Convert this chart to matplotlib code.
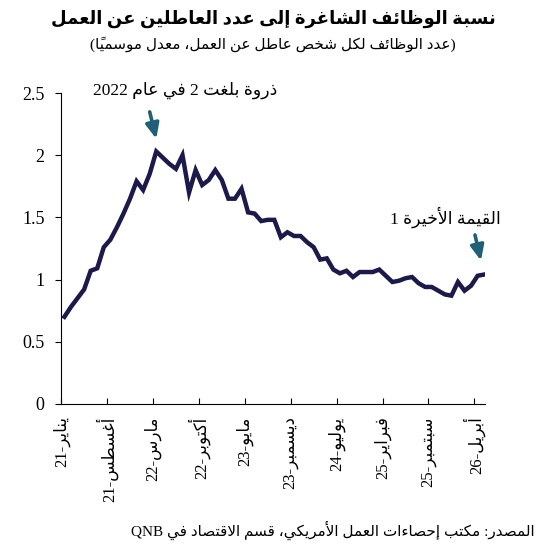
import re
import matplotlib
matplotlib.use("Agg")
import matplotlib.pyplot as plt

# ---- minimal Arabic shaper + bidi ----
F = {}
def _add(c, base, n):
    F[c] = [chr(base + k) for k in range(n)]
for c, b, n in [('\u0621',0xFE80,1),('\u0622',0xFE81,2),('\u0623',0xFE83,2),('\u0624',0xFE85,2),
                ('\u0625',0xFE87,2),('\u0626',0xFE89,4),('\u0627',0xFE8D,2),('\u0628',0xFE8F,4),
                ('\u0629',0xFE93,2),('\u062A',0xFE95,4),('\u062B',0xFE99,4),('\u062C',0xFE9D,4),
                ('\u062D',0xFEA1,4),('\u062E',0xFEA5,4),('\u062F',0xFEA9,2),('\u0630',0xFEAB,2),
                ('\u0631',0xFEAD,2),('\u0632',0xFEAF,2),('\u0633',0xFEB1,4),('\u0634',0xFEB5,4),
                ('\u0635',0xFEB9,4),('\u0636',0xFEBD,4),('\u0637',0xFEC1,4),('\u0638',0xFEC5,4),
                ('\u0639',0xFEC9,4),('\u063A',0xFECD,4),('\u0641',0xFED1,4),('\u0642',0xFED5,4),
                ('\u0643',0xFED9,4),('\u0644',0xFEDD,4),('\u0645',0xFEE1,4),('\u0646',0xFEE5,4),
                ('\u0647',0xFEE9,4),('\u0648',0xFEED,2),('\u0649',0xFEEF,2),('\u064A',0xFEF1,4)]:
    _add(c, b, n)
LAM_ALEF = {'\u0622': ('\uFEF5','\uFEF6'), '\u0623': ('\uFEF7','\uFEF8'),
            '\u0625': ('\uFEF9','\uFEFA'), '\u0627': ('\uFEFB','\uFEFC')}
MARKS = set(chr(c) for c in range(0x064B, 0x0653))

def shape(s):
    units = []
    for ch in s:
        if ch in MARKS and units:
            units[-1][1] += ch
        else:
            units.append([ch, ''])
    merged = []
    i = 0
    while i < len(units):
        if units[i][0] == '\u0644' and i + 1 < len(units) and units[i+1][0] in LAM_ALEF:
            merged.append(['LA' + units[i+1][0], units[i][1] + units[i+1][1]]); i += 2
        else:
            merged.append(units[i]); i += 1
    def joins_fwd(u):
        c = u[0]
        if c.startswith('LA'): return False
        return c in F and len(F[c]) == 4
    def is_ar(u):
        return u[0] in F or u[0].startswith('LA')
    out = []
    for i, u in enumerate(merged):
        c = u[0]
        prev = merged[i-1] if i > 0 else None
        nxt = merged[i+1] if i + 1 < len(merged) else None
        pj = prev is not None and joins_fwd(prev)
        nj = nxt is not None and is_ar(nxt) and joins_fwd(u)
        if c.startswith('LA'):
            g = LAM_ALEF[c[2]][1 if pj else 0]
        elif c in F:
            f = F[c]
            if len(f) == 1: g = f[0]
            elif len(f) == 2: g = f[1] if pj else f[0]
            else:
                g = f[3] if (pj and nj) else f[1] if pj else f[2] if nj else f[0]
        else:
            g = c
        out.append(g + u[1])
    tokens = []
    cur, curltr = [], None
    for g in out:
        ltr = bool(re.match(r'[A-Za-z0-9.]', g[0]))
        if curltr is None or ltr == curltr:
            cur.append(g)
        else:
            tokens.append((curltr, cur)); cur = [g]
        curltr = ltr
    if cur: tokens.append((curltr, cur))
    mirror = {'(': ')', ')': '('}
    res = []
    for ltr, tk in reversed(tokens):
        if ltr:
            res.append(''.join(tk))
        else:
            res.append(''.join(mirror.get(g, g) for g in reversed(tk)))
    return ''.join(res)

plt.rcParams['font.family'] = ['Liberation Serif', 'DejaVu Sans']

# ---- data ----
values = [0.70, 0.78, 0.85, 0.92, 1.07, 1.09, 1.26, 1.32, 1.42, 1.53,
          1.65, 1.79, 1.72, 1.85, 2.03, 1.98, 1.93, 1.89, 2.00, 1.70,
          1.88, 1.76, 1.80, 1.88, 1.80, 1.65, 1.65, 1.73, 1.54, 1.53,
          1.47, 1.48, 1.48, 1.34, 1.38, 1.35, 1.35, 1.30, 1.26, 1.16,
          1.17, 1.08, 1.05, 1.07, 1.02, 1.06, 1.06, 1.06, 1.08, 1.03,
          0.98, 0.99, 1.01, 1.02, 0.97, 0.94, 0.94, 0.91, 0.88, 0.87,
          0.98, 0.91, 0.95, 1.03, 1.04]
tick_labels = ['يناير-21', 'أغسطس-21', 'مارس-22', 'أكتوبر-22', 'مايو-23',
               'ديسمبر-23', 'يوليو-24', 'فبراير-25', 'سبتمبر-25', 'أبريل-26']
tick_idx = [0, 7, 14, 21, 28, 35, 42, 49, 56, 63]

title = 'نسبة الوظائف الشاغرة إلى عدد العاطلين عن العمل'
subtitle = '(عدد الوظائف لكل شخص عاطل عن العمل، معدل موسمياً)'
source = 'المصدر: مكتب إحصاءات العمل الأمريكي، قسم الاقتصاد في QNB'
ann1 = 'ذروة بلغت 2 في عام 2022'
ann2 = 'القيمة الأخيرة 1'

fig = plt.figure(figsize=(5.46, 5.57), dpi=100)
ax = fig.add_axes([0.112, 0.275, 0.776, 0.558])
ax.plot(range(len(values)), values, color='#1c1a4a', lw=3.2, solid_joinstyle='miter')
ax.set_xlim(-0.5, 64.1)
ax.set_ylim(0, 2.5)
ax.set_yticks([0, 0.5, 1, 1.5, 2, 2.5])
ax.set_yticklabels(['0', '0.5', '1', '1.5', '2', '2.5'], fontsize=13)
ax.set_xticks([i - 0.5 for i in tick_idx])
ax.set_xticklabels([shape(t) for t in tick_labels], rotation=90, fontsize=12,
                   family=['Liberation Serif', 'DejaVu Sans'])
ax.tick_params(axis='x', direction='in', length=4, pad=9)
ax.tick_params(axis='y', direction='out', length=4, pad=8)
for s in ['top', 'right']:
    ax.spines[s].set_visible(False)

arrow_c = '#1f5f78'
ax.annotate('', xy=(14.1, 2.11), xytext=(12.9, 2.37), annotation_clip=False,
            arrowprops=dict(arrowstyle='-|>,head_length=0.9,head_width=0.4', color=arrow_c, lw=2.6))
ax.text(18.4, 2.52, shape(ann1), ha='center', va='center', fontsize=12.5, clip_on=False)
ax.annotate('', xy=(63.6, 1.13), xytext=(62.5, 1.38), annotation_clip=False,
            arrowprops=dict(arrowstyle='-|>,head_length=0.9,head_width=0.4', color=arrow_c, lw=2.6))
ax.text(58.1, 1.50, shape(ann2), ha='center', va='center', fontsize=12.5)

fig.text(0.5, 0.967, shape(title), ha='center', va='center', fontsize=13, fontweight='bold')
fig.text(0.5, 0.92, shape(subtitle), ha='center', va='center', fontsize=11)
fig.text(0.98, 0.048, shape(source), ha='right', va='center', fontsize=11)

fig.savefig('out.png', dpi=100)
